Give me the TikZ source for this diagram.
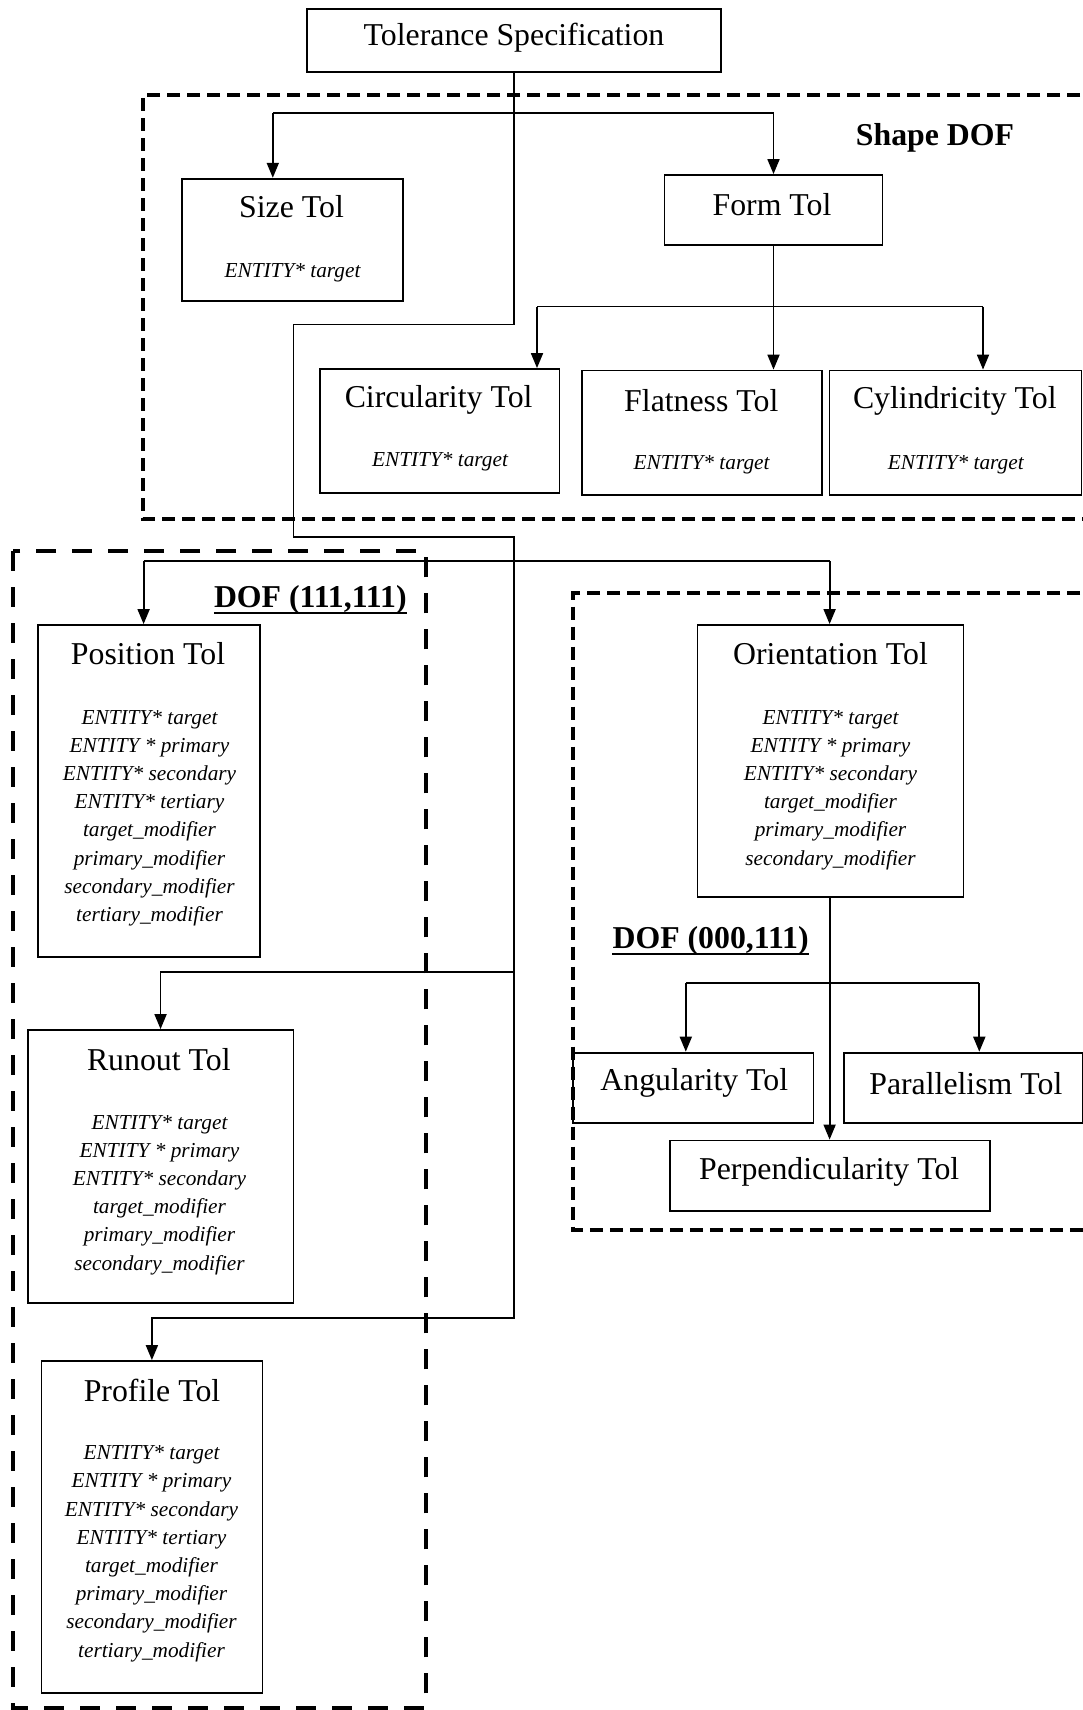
\documentclass[tikz,border=0pt]{standalone}
\usepackage{fontspec}
\setmainfont{Liberation Serif}
\usetikzlibrary{arrows.meta}
\begin{document}
\begin{tikzpicture}[x=1pt,y=-1pt,
  tolbox/.style={draw, line width=1.8pt, inner sep=0pt},
  ttl/.style={font=\fontsize{31.8}{38}\selectfont, inner sep=0pt, anchor=center},
  attr/.style={font=\fontsize{21.3}{28.2}\selectfont\itshape, inner sep=0pt, anchor=base},
  doflabel/.style={font=\fontsize{31.8}{38}\selectfont\bfseries, inner sep=0pt, anchor=base},
  conn/.style={line width=1.8pt},
  arr/.style={conn, -{Triangle[length=15pt,width=12pt]}},
  shortdash/.style={line width=4pt, dash pattern=on 13pt off 7pt},
  longdash/.style={line width=4pt, dash pattern=on 20pt off 16pt},
  uline/.style={line width=2pt}]

\useasboundingbox (0,0) rectangle (1083,1710);
\fill[white] (0,0) rectangle (1083,1710);
\clip (0,0) rectangle (1083,1710);

% ---------- grouping regions ----------
\draw[shortdash] (1100,95) -- (143.3,95) -- (143.3,519.3) -- (1100,519.3);
\draw[longdash] (13.3,551) rectangle (425.7,1708);
\draw[shortdash] (1100,593.3) -- (573.3,593.3) -- (573.3,1230) -- (1100,1230);

\node[doflabel] (shapeLbl) at (935,145.7) {Shape DOF};
\node[doflabel] (dofA) at (310.3,607.3) {DOF (111,111)};
\draw[uline] ([yshift=-5.4pt]dofA.base west) -- ([yshift=-5.4pt]dofA.base east);
\node[doflabel] (dofB) at (710.6,948.5) {DOF (000,111)};
\draw[uline] ([yshift=-5.4pt]dofB.base west) -- ([yshift=-5.4pt]dofB.base east);

% ---------- boxes ----------
\node[tolbox, minimum width=414pt, minimum height=63pt] (ts) at (514,40.5) {};
\node[ttl] (tsT) at (514,38) {Tolerance Specification};

\node[tolbox, minimum width=221.4pt, minimum height=122.3pt] (size) at (292.3,239.85) {};
\node[ttl] (sizeT) at (291.5,207) {Size Tol};
\node[attr] (sizeA) at (292.5,277) {ENTITY* target};

\node[tolbox, minimum width=218pt, minimum height=70pt] (form) at (773.5,210) {};
\node[ttl] (formT) at (772,205) {Form Tol};

\node[tolbox, minimum width=239.5pt, minimum height=124pt] (circ) at (439.75,431) {};
\node[ttl] (circT) at (438.6,399.5) {Circularity Tol};
\node[attr] (circA) at (440,466.5) {ENTITY* target};

\node[tolbox, minimum width=240pt, minimum height=124.5pt] (flat) at (702,432.75) {};
\node[ttl] (flatT) at (701.3,400.5) {Flatness Tol};
\node[attr] (flatA) at (701.6,469) {ENTITY* target};

\node[tolbox, minimum width=252.1pt, minimum height=124.5pt] (cyl) at (955.45,432.75) {};
\node[ttl] (cylT) at (954.8,400.5) {Cylindricity Tol};
\node[attr] (cylA) at (955.8,469) {ENTITY* target};

\node[tolbox, minimum width=221.7pt, minimum height=331.7pt] (pos) at (149.15,790.85) {};
\node[ttl] (posT) at (148,654) {Position Tol};
\foreach \t [count=\i from 0] in {ENTITY* target, ENTITY * primary, ENTITY* secondary, ENTITY* tertiary, target\_modifier, primary\_modifier, secondary\_modifier, tertiary\_modifier}
  \node[attr] (posA\i) at (149.5,{724+28.2*\i}) {\t};

\node[tolbox, minimum width=265.9pt, minimum height=272pt] (ori) at (830.45,761) {};
\node[ttl] (oriT) at (830.5,654) {Orientation Tol};
\foreach \t [count=\i from 0] in {ENTITY* target, ENTITY * primary, ENTITY* secondary, target\_modifier, primary\_modifier, secondary\_modifier}
  \node[attr] (oriA\i) at (830.5,{724+28.2*\i}) {\t};

\node[tolbox, minimum width=265.9pt, minimum height=272.7pt] (run) at (160.55,1166.35) {};
\node[ttl] (runT) at (158.8,1060) {Runout Tol};
\foreach \t [count=\i from 0] in {ENTITY* target, ENTITY * primary, ENTITY* secondary, target\_modifier, primary\_modifier, secondary\_modifier}
  \node[attr] (runA\i) at (159.5,{1129+28.2*\i}) {\t};

\node[tolbox, minimum width=221pt, minimum height=331.7pt] (prof) at (151.9,1526.85) {};
\node[ttl] (profT) at (152,1390) {Profile Tol};
\foreach \t [count=\i from 0] in {ENTITY* target, ENTITY * primary, ENTITY* secondary, ENTITY* tertiary, target\_modifier, primary\_modifier, secondary\_modifier, tertiary\_modifier}
  \node[attr] (profA\i) at (151.5,{1459.6+28.2*\i}) {\t};

\node[tolbox, minimum width=240.5pt, minimum height=70.1pt] (ang) at (693.25,1087.65) {};
\node[ttl] (angT) at (694.3,1083.3) {Angularity Tol};

\node[tolbox, minimum width=239pt, minimum height=70.1pt] (par) at (963.5,1087.65) {};
\node[ttl] (parT) at (965.8,1083.3) {Parallelism Tol};

\node[tolbox, minimum width=319.6pt, minimum height=70.5pt] (perp) at (829.8,1175.75) {};
\node[ttl] (perpT) at (829.2,1171.7) {Perpendicularity Tol};

% ---------- junction points ----------
\coordinate (bendA) at (514,324.5);
\coordinate (bendB) at (293.5,324.5);
\coordinate (bendC) at (293.5,537);
\coordinate (bendD) at (514,537);
\coordinate (tProf) at (514,1318);
\coordinate (tRun) at (514,972);
\coordinate (sL) at (272.8,113);
\coordinate (fL) at (537,306.5);
\coordinate (fR) at (983,306.5);
\coordinate (pL) at (143.6,561);
\coordinate (pR) at (829.6,561);
\coordinate (oL) at (685.8,983);
\coordinate (oR) at (979.3,983);

% ---------- connectors ----------
\draw[arr] (ts.south) -- (bendA) -- (bendB) -- (bendC) -- (bendD) -- (tProf) -| (prof.north);
\draw[arr] (tRun) -| (run.north);

\draw[arr] (sL) -- (sL |- size.north);
\draw[arr] (sL) -| (form.north);

\draw[arr] (form.south) -- (form.south |- flat.north);
\draw[conn] (fL) -- (fR);
\draw[arr] (fL) -- (fL |- circ.north);
\draw[arr] (fR) -- (fR |- cyl.north);

\draw[conn] (pL) -- (pR);
\draw[arr] (pL) -- (pL |- pos.north);
\draw[arr] (pR) -- (pR |- ori.north);

\draw[arr] (pR |- ori.south) -- (pR |- perp.north);
\draw[conn] (oL) -- (oR);
\draw[arr] (oL) -- (oL |- ang.north);
\draw[arr] (oR) -- (oR |- par.north);
\end{tikzpicture}
\end{document}
